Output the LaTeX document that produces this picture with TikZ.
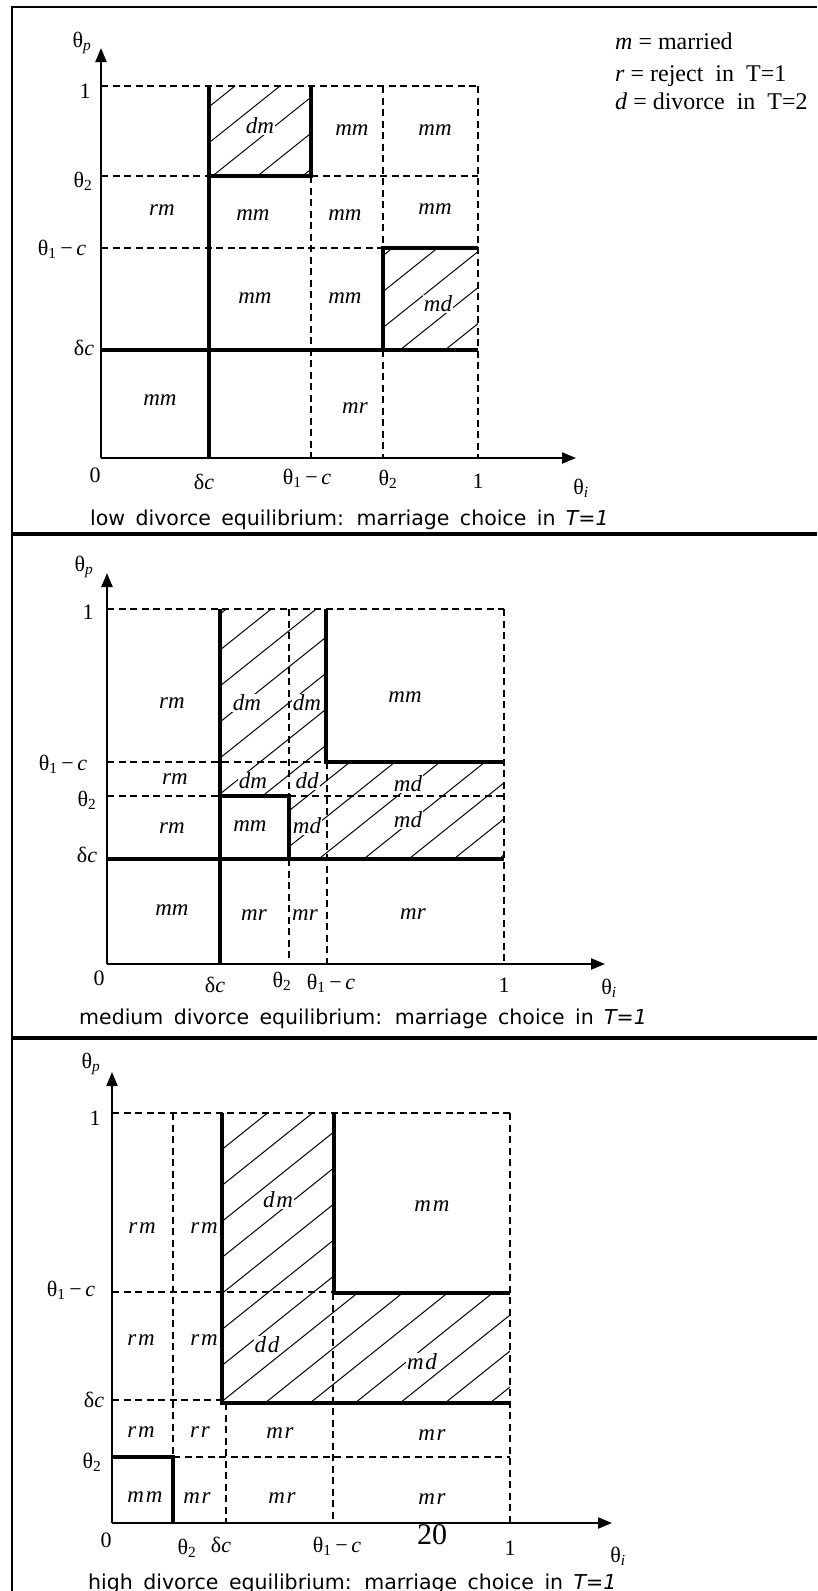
\documentclass[tikz,border=0pt]{standalone}
\usepackage{fontspec}
\setmainfont{Liberation Serif}
\newfontfamily\capfont[WordSpace=1.6]{DejaVu Sans}
\newfontfamily\wideit[LetterSpace=8]{Liberation Serif}
\usetikzlibrary{arrows.meta}
\newcommand{\thsub}[1]{θ\textsubscript{#1}}
\newcommand{\thc}{θ\textsubscript{1}\,−\,\textit{c}}
\newcommand{\dc}{δ\textit{c}}
\tikzset{>={Triangle[length=14pt,width=11pt]},
  axisln/.style={->,line width=2.2pt},
  boldln/.style={line width=4.2pt},
  gridln/.style={line width=2pt,dash pattern=on 7pt off 4.5pt},
  frameln/.style={line width=2.5pt},
  hatchln/.style={line width=1pt},
  lbl/.style={font=\fontsize{23}{27}\selectfont\itshape,inner sep=1pt},
  hlbl/.style={lbl,fill=white},
  wlbl/.style={font=\fontsize{23}{27}\selectfont\wideit\itshape,inner sep=1pt},
  whlbl/.style={wlbl,fill=white},
  ticktxt/.style={font=\fontsize{22}{26}\selectfont,inner sep=1pt},
  keytxt/.style={font=\fontsize{24}{29}\selectfont,anchor=base west,inner sep=0pt},
  captxt/.style={font=\capfont\fontsize{20.5}{24}\selectfont,anchor=base west,inner sep=0pt}}

\begin{document}
\begin{tikzpicture}[x=1pt,y=-1pt]
\useasboundingbox (0,0) rectangle (817,1591);
% frame and panel rules
\draw[frameln] (12,1591) -- (12,7) -- (817,7);
\draw[frameln,line width=4.5pt] (12,534) -- (817,534);
\draw[frameln,line width=4.5pt] (12,1038) -- (817,1038);

% ---- panel 1: low divorce
\begin{scope}
\clip (209,86) rectangle (311,176) (383,248) rectangle (478,350);
\foreach \k in {0,...,14} \draw[hatchln] (150,118+36*\k) -- ++(400,-320);
\end{scope}
\draw[gridln] (101,86) -- (478,86); \draw[gridln] (101,176) -- (209,176); \draw[gridln] (311,176) -- (478,176);
\draw[gridln] (101,248) -- (383,248); \draw[gridln] (311,176) -- (311,458);
\draw[gridln] (383,86) -- (383,248); \draw[gridln] (383,350) -- (383,458); \draw[gridln] (478,86) -- (478,458);
\draw[boldln] (209,86) -- (209,458); \draw[boldln] (209,176) -- (311,176) -- (311,86);
\draw[boldln] (101,350) -- (478,350); \draw[boldln] (383,350) -- (383,248) -- (478,248);
\coordinate (o1) at (101,458); \coordinate (y1) at (101,48); \coordinate (x1) at (576,458);
\draw[axisln] (o1) -- (y1); \draw[axisln] (o1) -- (x1);
\node[ticktxt,anchor=base] (p1) at (82,47) {θ\textsubscript{\textit{p}}};
\node[ticktxt] (t1a) at (85,91) {1}; \node[ticktxt] (t1b) at (83,181) {\thsub{2}};
\node[ticktxt] (t1c) at (62,249) {\thc}; \node[ticktxt] (t1d) at (84,348) {\dc};
\node[ticktxt] (b1a) at (95,475) {0}; \node[ticktxt] (b1b) at (204,482) {\dc}; \node[ticktxt] (b1c) at (307,478) {\thc};
\node[ticktxt] (b1d) at (388,479) {\thsub{2}}; \node[ticktxt] (b1e) at (478,481) {1}; \node[ticktxt] (b1f) at (581,488) {θ\textsubscript{\textit{i}}};
\node[hlbl] (r1a) at (260,126) {dm}; \node[lbl] (r1b) at (352,130) {mm}; \node[lbl] (r1c) at (435,130) {mm};
\node[lbl] (r1d) at (162,210) {rm}; \node[lbl] (r1e) at (253,215) {mm}; \node[lbl] (r1f) at (345,215) {mm}; \node[lbl] (r1g) at (435,209) {mm};
\node[lbl] (r1h) at (255,298) {mm}; \node[lbl] (r1i) at (345,298) {mm}; \node[hlbl] (r1j) at (438,304) {md};
\node[lbl] (r1k) at (160,400) {mm}; \node[lbl] (r1l) at (355,408) {mr};
\node[keytxt] (k1) at (615,49) {\textit{m} = married};
\node[keytxt] (k2) at (615,81) {\textit{r} = reject\ \ in\ \ T=1};
\node[keytxt] (k3) at (615,109) {\textit{d} = divorce\ \ in\ \ T=2};
\node[captxt] (c1) at (90,525) {low divorce equilibrium: marriage choice in \textit{T=1}};

% ---- panel 2: medium divorce
\begin{scope}
\clip (220,609) -- (326,609) -- (326,762) -- (504,762) -- (504,859) -- (289,859) -- (289,796) -- (220,796) -- cycle;
\foreach \k in {0,...,15} \draw[hatchln] (150,634+36*\k) -- ++(400,-320);
\end{scope}
\draw[gridln] (107,609) -- (504,609); \draw[gridln] (107,762) -- (326,762);
\draw[gridln] (107,796) -- (220,796); \draw[gridln] (289,796) -- (504,796);
\draw[gridln] (289,609) -- (289,796); \draw[gridln] (289,859) -- (289,964);
\draw[gridln] (327,762) -- (327,964); \draw[gridln] (504,609) -- (504,964);
\draw[boldln] (220,609) -- (220,964); \draw[boldln] (326,609) -- (326,762) -- (504,762);
\draw[boldln] (220,796) -- (289,796) -- (289,859); \draw[boldln] (107,859) -- (504,859);
\coordinate (o2) at (107,964); \coordinate (y2) at (107,573); \coordinate (x2) at (605,964);
\draw[axisln] (o2) -- (y2); \draw[axisln] (o2) -- (x2);
\node[ticktxt,anchor=base] (p2) at (84,571) {θ\textsubscript{\textit{p}}};
\node[ticktxt] (t2a) at (88,612) {1}; \node[ticktxt] (t2b) at (63,764) {\thc};
\node[ticktxt] (t2c) at (87,800) {\thsub{2}}; \node[ticktxt] (t2d) at (87,855) {\dc};
\node[ticktxt] (b2a) at (99,978) {0}; \node[ticktxt] (b2b) at (215,985) {\dc}; \node[ticktxt] (b2c) at (282,981) {\thsub{2}};
\node[ticktxt] (b2d) at (331,983) {\thc}; \node[ticktxt] (b2e) at (504,985) {1}; \node[ticktxt] (b2f) at (609,988) {θ\textsubscript{\textit{i}}};
\node[lbl] (r2a) at (172,703) {rm}; \node[hlbl] (r2b) at (247,703) {dm}; \node[hlbl] (r2c) at (307,703) {dm}; \node[lbl] (r2d) at (405,697) {mm};
\node[lbl] (r2e) at (175,779) {rm}; \node[hlbl] (r2f) at (253,781) {dm}; \node[hlbl] (r2g) at (307,781) {dd}; \node[hlbl] (r2h) at (408,784) {md};
\node[lbl] (r2i) at (172,828) {rm}; \node[lbl] (r2j) at (250,826) {mm}; \node[hlbl] (r2k) at (307,826) {md}; \node[hlbl] (r2l) at (408,820) {md};
\node[lbl] (r2m) at (172,910) {mm}; \node[lbl] (r2n) at (254,915) {mr}; \node[lbl] (r2o) at (305,915) {mr}; \node[lbl] (r2p) at (413,914) {mr};
\node[captxt] (c2) at (79,1024) {medium divorce equilibrium: marriage choice in \textit{T=1}};

% ---- panel 3: high divorce
\begin{scope}
\clip (222,1113) -- (334,1113) -- (334,1293) -- (510,1293) -- (510,1403) -- (222,1403) -- cycle;
\foreach \k in {0,...,15} \draw[hatchln] (150,1171+36*\k) -- ++(400,-320);
\end{scope}
\draw[gridln] (112,1113) -- (510,1113); \draw[gridln] (173,1113) -- (173,1457);
\draw[gridln] (112,1292) -- (334,1292); \draw[gridln] (112,1400) -- (222,1400);
\draw[gridln] (173,1457) -- (510,1457); \draw[gridln] (226,1403) -- (226,1523);
\draw[gridln] (333,1293) -- (333,1523); \draw[gridln] (510,1113) -- (510,1523);
\draw[boldln] (222,1113) -- (222,1403) -- (510,1403); \draw[boldln] (334,1113) -- (334,1293) -- (510,1293);
\draw[boldln] (112,1457) -- (173,1457) -- (173,1523);
\coordinate (o3) at (112,1523); \coordinate (y3) at (112,1072); \coordinate (x3) at (612,1523);
\draw[axisln] (o3) -- (y3); \draw[axisln] (o3) -- (x3);
\node[ticktxt,anchor=base] (p3) at (91,1068) {θ\textsubscript{\textit{p}}};
\node[ticktxt] (t3a) at (95,1118) {1}; \node[ticktxt] (t3b) at (71,1290) {\thc};
\node[ticktxt] (t3c) at (94,1400) {\dc}; \node[ticktxt] (t3d) at (92,1462) {\thsub{2}};
\node[ticktxt] (b3a) at (106,1540) {0}; \node[ticktxt] (b3b) at (187,1548) {\thsub{2}}; \node[ticktxt] (b3c) at (221,1545) {\dc};
\node[ticktxt] (b3d) at (337,1546) {\thc}; \node[ticktxt] (b3e) at (510,1548) {1}; \node[ticktxt] (b3f) at (618,1556) {θ\textsubscript{\textit{i}}};
\node[ticktxt,font=\fontsize{30}{34}\selectfont] (pg) at (432,1535) {20};
\node[wlbl] (r3a) at (142,1228) {rm}; \node[wlbl] (r3b) at (204,1228) {rm}; \node[whlbl] (r3c) at (278,1200) {dm}; \node[wlbl] (r3d) at (432,1206) {mm};
\node[wlbl] (r3e) at (141,1340) {rm}; \node[wlbl] (r3f) at (204,1340) {rm}; \node[whlbl] (r3g) at (267,1345) {dd}; \node[whlbl] (r3h) at (422,1362) {md};
\node[wlbl] (r3i) at (141,1432) {rm}; \node[wlbl] (r3j) at (200,1432) {rr}; \node[wlbl] (r3k) at (280,1433) {mr}; \node[wlbl] (r3l) at (432,1435) {mr};
\node[wlbl] (r3m) at (145,1497) {mm}; \node[wlbl] (r3n) at (197,1498) {mr}; \node[wlbl] (r3o) at (282,1498) {mr}; \node[wlbl] (r3p) at (432,1499) {mr};
\node[captxt] (c3) at (88,1589) {high divorce equilibrium: marriage choice in \textit{T=1}};
\end{tikzpicture}
\end{document}
